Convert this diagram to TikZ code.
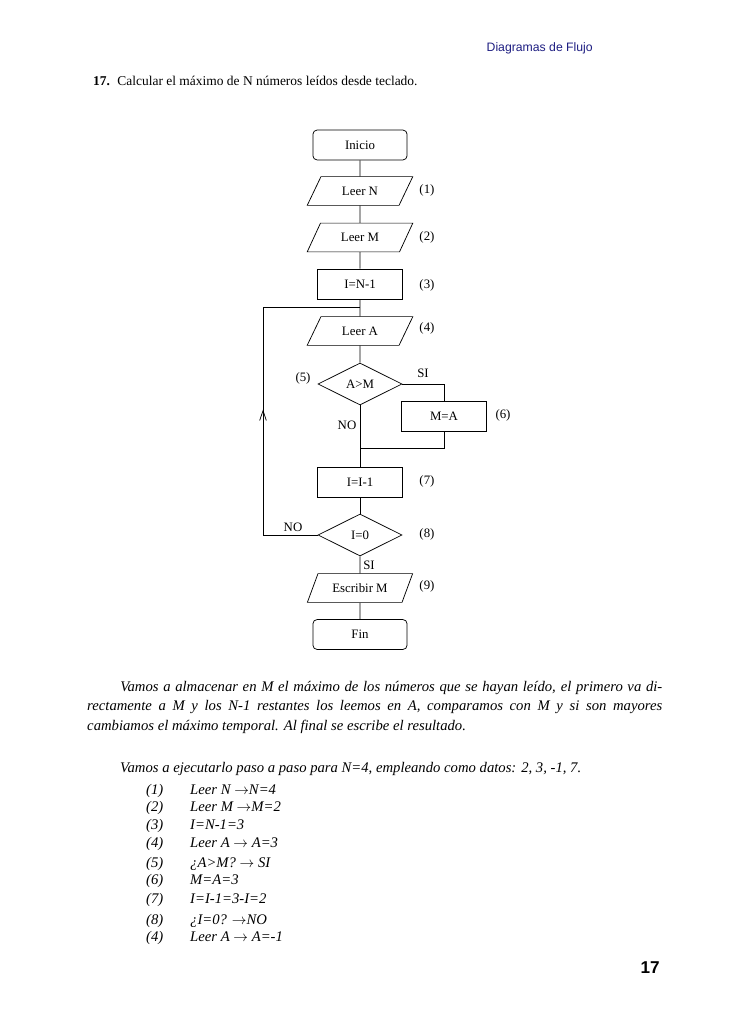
\documentclass[tikz,border=0pt]{standalone}
\usepackage{fontspec}
\setmainfont{Liberation Serif}
\newfontfamily\headfont{Liberation Sans}
\usepackage{xcolor}
\usetikzlibrary{shapes}
\usetikzlibrary{positioning}
\usetikzlibrary{arrows.meta}
\usetikzlibrary{decorations.markings}
\definecolor{cabecera}{RGB}{30,30,130}

\begin{document}
\begin{tikzpicture}[x=0.8173pt,y=-0.8173pt]
        \tikzstyle{terminal}=[rectangle,rounded corners=3.5pt,draw,line width=0.6pt,minimum width=77pt,minimum height=24.5pt,font=\fontsize{10.5}{12}\selectfont]
        \tikzstyle{proceso}=[rectangle,draw,line width=0.6pt,minimum width=69.5pt,minimum height=24.5pt,font=\fontsize{10.5}{12}\selectfont]
        \tikzstyle{datos}=[trapezium,trapezium left angle=65,trapezium right angle=115,trapezium stretches=true,draw,line width=0.6pt,minimum width=86.6pt,minimum height=23.5pt,font=\fontsize{10.5}{12}\selectfont]
        \tikzstyle{decision}=[diamond,draw,line width=0.6pt,minimum width=68.7pt,minimum height=34.3pt,inner sep=0pt,font=\fontsize{10.5}{12}\selectfont]
        \tikzstyle{etiqueta}=[inner sep=1pt,font=\fontsize{10.5}{12}\selectfont]
        \tikzstyle{edge}=[draw,line width=0.6pt]
        \tikzstyle{subida}=[postaction={decorate},decoration={markings,mark=at position 0.55 with {\arrow{Straight Barb[length=8pt,width=5.5pt,line width=0.6pt]}}}]
        \tikzstyle{texto}=[inner sep=0pt,anchor=base west,font=\itshape\fontsize{12}{14}\selectfont]
        \path[use as bounding box,fill=white] (0,0) rectangle (728,1031);
        % cabecera y enunciado
        \node [inner sep=0pt,anchor=base east,text=cabecera,font=\headfont\fontsize{10}{12}\selectfont] (cabecera) at (593,51.5) {Diagramas de Flujo};
        \node [inner sep=0pt,anchor=base west,font=\fontsize{11}{13}\selectfont] (titulo) at (93,86) {\textbf{17.}\hspace{6pt}Calcular el máximo de N números leídos desde teclado.};
       \begin{scope}
         \node [terminal] (inicio) at (360,145) {Inicio};
         \node [datos] (leerN) at (360,191) {Leer N};
         \node [datos] (leerM) at (360,237.5) {Leer M};
         \node [proceso] (asigI) at (360,284) {I=N-1};
         \node [datos] (leerA) at (360,331) {Leer A};
         \node [decision] (compA) at (360,384) {A>M};
         \node [proceso] (asigM) at (444,416) {M=A};
         \node [proceso] (decrI) at (360,482) {I=I-1};
         \node [decision] (compI) at (360,535) {I=0};
         \node [datos] (escM) at (360,588) {Escribir M};
         \node [terminal] (fin) at (360,634.5) {Fin};
         \coordinate (union) at (360,448);
         \coordinate (bucleB) at (263,535);
         \coordinate (bucleA) at (263,307);
         \coordinate (entrada) at (360,307);
         \path[edge] (inicio) edge (leerN);
         \path[edge] (leerN) edge (leerM);
         \path[edge] (leerM) edge (asigI);
         \path[edge] (asigI) edge (leerA);
         \path[edge] (leerA) edge (compA);
         \path[edge] (compA) edge (decrI);
         \path[edge] (compA.east) -| (asigM.north);
         \path[edge] (asigM.south) |- (union);
         \path[edge] (decrI) edge (compI);
         \path[edge] (compI) edge (escM);
         \path[edge] (escM) edge (fin);
         \path[edge] (compI.west) -- (bucleB);
         \path[edge,subida] (bucleB) -- (bucleA);
         \path[edge] (bucleA) -- (entrada);
         % etiquetas
         \node [etiqueta] (n5) at (303,378) {(5)};
         \node [etiqueta] (si1) at (423,373) {SI};
         \node [etiqueta] (no1) at (347,425) {NO};
         \node [etiqueta] (n6) at (503,415) {(6)};
         \node [etiqueta] (no2) at (293,527) {NO};
         \node [etiqueta] (si2) at (369,565) {SI};
         \foreach \k/\yy in {1/190,2/237,3/285,4/328,7/481,8/534,9/586}
           \node [etiqueta,anchor=west] (n\k) at (418,\yy) {(\k)};
        \end{scope}
        % explicacion
        \node [texto,text width=470pt,align=justify,font=\itshape\fontsize{12}{16}\selectfont] (parrafo) at (87,691) {\hspace*{27pt}Vamos a almacenar en M el máximo de los números que se hayan leído, el primero va di-\linebreak rectamente a M y los N-1 restantes los leemos en A, comparamos con M y si son mayores\linebreak cambiamos el máximo temporal. Al final se escribe el resultado.};
        \node [texto] (ejemplo) at (120,772) {Vamos a ejecutarlo paso a paso para N=4, empleando como datos: 2, 3, -1, 7.};
        \foreach \yy/\num/\txt [count=\k] in {794/1/Leer N $\rightarrow$N=4, 811/2/Leer M $\rightarrow$M=2, 829/3/I=N-1=3, 847/4/Leer A $\rightarrow$ A=3, 867/5/¿A>M? $\rightarrow$ SI, 884/6/M=A=3, 903/7/I=I-1=3-I=2, 924/8/¿I=0? $\rightarrow$NO, 941/4/Leer A $\rightarrow$ A=-1}
        {
          \node [texto] (num\k) at (146,\yy) {(\num)};
          \node [texto] (paso\k) at (190,\yy) {\txt};
        }
        \node [inner sep=0pt,anchor=base east,font=\headfont\bfseries\fontsize{14}{16}\selectfont] (pagina) at (660,973) {17};
      \end{tikzpicture}
\end{document}
